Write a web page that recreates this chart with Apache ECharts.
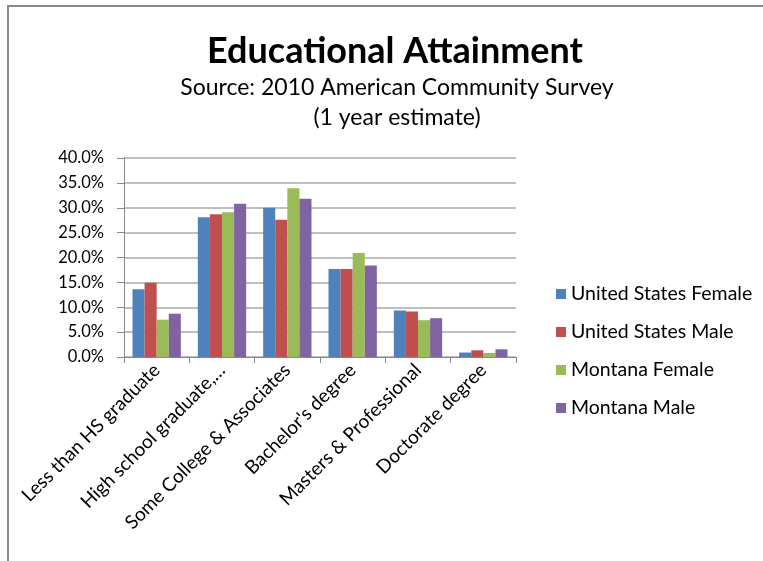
<!DOCTYPE html>
<html>
<head>
<meta charset="utf-8">
<script src="https://cdn.jsdelivr.net/npm/echarts@6/dist/echarts.min.js"></script>
<style>html,body{margin:0;padding:0;background:#fff}#c{width:763px;height:561px}</style>
</head>
<body>
<div id="c"></div>
<script>
const categories = ["Less than HS graduate", "High school graduate,\u2026", "Some College & Associates", "Bachelor's degree", "Masters & Professional", "Doctorate degree"];
const seriesNames = ["United States Female", "United States Male", "Montana Female", "Montana Male"];
const usFemale = [13.6, 28.1, 30.0, 17.7, 9.35, 0.9];
const usMale = [14.9, 28.7, 27.6, 17.7, 9.15, 1.35];
const mtFemale = [7.5, 29.1, 33.9, 20.9, 7.4, 0.8];
const mtMale = [8.7, 30.8, 31.8, 18.4, 7.8, 1.55];
const colors = ["#4F81BD", "#C0504D", "#9BBB59", "#8064A2"];
const FONT = "Lato";

const chart = echarts.init(document.getElementById('c'));
const dataSets = [usFemale, usMale, mtFemale, mtMale];
chart.setOption({
  animation: false,
  textStyle: { fontFamily: FONT },
  graphic: [{
    type: 'rect', shape: { x: 8, y: 6, width: 800, height: 600 },
    style: { fill: 'none', stroke: '#888', lineWidth: 2 }, silent: true
  }],
  title: [
    { text: 'Educational Attainment', left: 390, textAlign: 'center', top: 28,
      textStyle: { fontFamily: FONT, fontSize: 36, fontWeight: 'bold', color: '#000' } },
    { text: 'Source: 2010 American Community Survey\n(1 year estimate)', left: 392, textAlign: 'center', top: 68,
      textStyle: { fontFamily: FONT, fontSize: 23, fontWeight: 'normal', color: '#000', lineHeight: 30 } }
  ],
  legend: {
    orient: 'vertical', left: 551, top: 279, itemGap: 18,
    icon: 'rect', itemWidth: 10, itemHeight: 10,
    textStyle: { fontFamily: FONT, fontSize: 19.5, lineHeight: 20, color: '#000' },
    data: seriesNames
  },
  grid: { left: 124, right: 247, top: 158, bottom: 204, containLabel: false },
  xAxis: {
    type: 'category', data: categories,
    axisLine: { lineStyle: { color: '#888', width: 1 } },
    axisTick: { show: true, length: 6, lineStyle: { color: '#888' } },
    axisLabel: { interval: 0, rotate: 45, fontSize: 19, color: '#000', fontFamily: FONT, margin: 10 }
  },
  yAxis: {
    type: 'value', min: 0, max: 40, interval: 5,
    axisLine: { show: true, lineStyle: { color: '#888' } },
    axisTick: { show: true, length: 7, lineStyle: { color: '#888' } },
    splitLine: { lineStyle: { color: '#aaa', width: 1.5 } },
    axisLabel: { formatter: v => v.toFixed(1) + '%', fontSize: 16.5, color: '#000', fontFamily: FONT, margin: 20 }
  },
  series: seriesNames.map((n, i) => ({
    name: n, type: 'bar', data: dataSets[i],
    barGap: '0%', barCategoryGap: '26%',
    itemStyle: { color: colors[i] }
  }))
});
</script>
</body>
</html>
